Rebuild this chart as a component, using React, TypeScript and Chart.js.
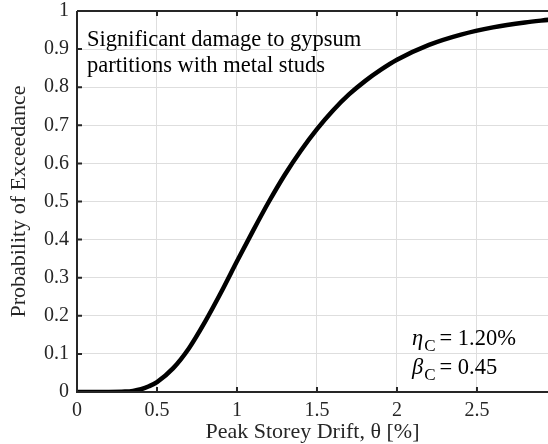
import React, { useEffect, useRef } from "react";
import { Chart, registerables } from "chart.js";

Chart.register(...registerables);

const driftX = [0, 0.1, 0.2, 0.3, 0.35, 0.4, 0.45, 0.5, 0.6, 0.7, 0.8, 0.9, 1.0, 1.1, 1.2, 1.3, 1.4, 1.5, 1.6, 1.7, 1.8, 1.9, 2.0, 2.2, 2.4, 2.6, 2.8, 2.95];
const probY = [0, 0, 0.00003, 0.001, 0.003, 0.0073, 0.015, 0.026, 0.062, 0.115, 0.184, 0.261, 0.343, 0.423, 0.5, 0.571, 0.634, 0.69, 0.739, 0.781, 0.816, 0.846, 0.872, 0.911, 0.938, 0.957, 0.97, 0.977];
const xTicks = [0, 0.5, 1, 1.5, 2, 2.5];
const yTicks = [0, 0.1, 0.2, 0.3, 0.4, 0.5, 0.6, 0.7, 0.8, 0.9, 1];
const noteLines = ["Significant damage to gypsum", "partitions with metal studs"];
const etaText = "= 1.20%";
const betaText = "= 0.45";

const FONT = "'Liberation Serif', 'DejaVu Serif', serif";
const AXIS = "#262626";

const decorPlugin = {
  id: "decor",
  afterDraw(chart: any) {
    const { ctx, chartArea: a, scales } = chart;
    const xs = scales.x, ys = scales.y;
    ctx.save();
    ctx.strokeStyle = AXIS;
    ctx.lineWidth = 2;
    ctx.beginPath();
    ctx.moveTo(a.left, a.top);
    ctx.lineTo(a.right, a.top);
    ctx.moveTo(a.left, a.top);
    ctx.lineTo(a.left, a.bottom);
    ctx.lineTo(a.right, a.bottom);
    ctx.stroke();
    const tl = 5;
    ctx.beginPath();
    xTicks.forEach((v) => {
      const px = xs.getPixelForValue(v);
      ctx.moveTo(px, a.bottom);
      ctx.lineTo(px, a.bottom - tl);
      ctx.moveTo(px, a.top);
      ctx.lineTo(px, a.top + tl);
    });
    yTicks.forEach((v) => {
      const py = ys.getPixelForValue(v);
      ctx.moveTo(a.left, py);
      ctx.lineTo(a.left + tl, py);
    });
    ctx.stroke();
    ctx.fillStyle = "#000";
    ctx.textBaseline = "middle";
    ctx.textAlign = "left";
    ctx.font = `22.5px ${FONT}`;
    ctx.fillText(noteLines[0], xs.getPixelForValue(0.0625), ys.getPixelForValue(0.924));
    ctx.fillText(noteLines[1], xs.getPixelForValue(0.0625), ys.getPixelForValue(0.856));
    const drawSym = (sym: string, rest: string, yv: number) => {
      let x = xs.getPixelForValue(2.094);
      const y = ys.getPixelForValue(yv);
      ctx.font = `italic 22.5px ${FONT}`;
      ctx.fillText(sym, x, y);
      x += ctx.measureText(sym).width + 1;
      ctx.font = `17px ${FONT}`;
      ctx.fillText("C", x, y + 8);
      x += ctx.measureText("C").width + 4;
      ctx.font = `22.5px ${FONT}`;
      ctx.fillText(rest, x, y);
    };
    drawSym("η", etaText, 0.14);
    drawSym("β", betaText, 0.063);
    ctx.restore();
  },
};

export default function App() {
  const ref = useRef<HTMLCanvasElement | null>(null);
  useEffect(() => {
    if (!ref.current) return;
    const chart = new Chart(ref.current, {
      type: "line",
      data: {
        datasets: [
          {
            data: driftX.map((x, i) => ({ x, y: probY[i] })),
            borderColor: "#000",
            borderWidth: 4.5,
            pointRadius: 0,
            cubicInterpolationMode: "monotone",
            fill: false,
          },
        ],
      },
      options: {
        animation: false,
        responsive: false,
        maintainAspectRatio: false,
        layout: { autoPadding: false, padding: { top: 11, right: 0, left: 0, bottom: 0 } },
        plugins: { legend: { display: false }, tooltip: { enabled: false } },
        scales: {
          x: {
            type: "linear",
            min: 0,
            max: 2.944,
            afterBuildTicks: (s: any) => {
              s.ticks = xTicks.map((v) => ({ value: v }));
            },
            afterFit: (s: any) => {
              s.height = 52;
            },
            grid: { color: "#dedede", lineWidth: 1, drawTicks: false },
            border: { display: false },
            ticks: {
              color: "#262626",
              font: { family: FONT, size: 20, lineHeight: 1 },
              padding: 9,
              maxRotation: 0,
              callback: (v: any) => String(v),
            },
            title: {
              display: true,
              text: "Peak Storey Drift, θ [%]",
              color: "#262626",
              font: { family: FONT, size: 22, lineHeight: 1 },
              padding: { top: 0, bottom: 1 },
            },
          },
          y: {
            type: "linear",
            min: 0,
            max: 1,
            afterBuildTicks: (s: any) => {
              s.ticks = yTicks.map((v) => ({ value: v }));
            },
            afterFit: (s: any) => {
              s.width = 77;
              s.paddingTop = 0;
              s.paddingBottom = 0;
            },
            grid: { color: "#dedede", lineWidth: 1, drawTicks: false },
            border: { display: false },
            ticks: {
              color: "#262626",
              font: { family: FONT, size: 20, lineHeight: 1 },
              padding: 8,
              callback: (v: any) => String(v),
            },
            title: {
              display: true,
              text: "Probability of Exceedance",
              color: "#262626",
              font: { family: FONT, size: 22, lineHeight: 1 },
              padding: { top: 8, bottom: 0 },
            },
          },
        },
      },
      plugins: [decorPlugin],
    } as any);
    return () => chart.destroy();
  }, []);
  return (
    <div style={{ position: "fixed", left: 0, top: 0, width: 548, height: 444, background: "#fff" }}>
      <canvas ref={ref} width={548} height={444} style={{ width: 548, height: 444, display: "block" }} />
    </div>
  );
}
